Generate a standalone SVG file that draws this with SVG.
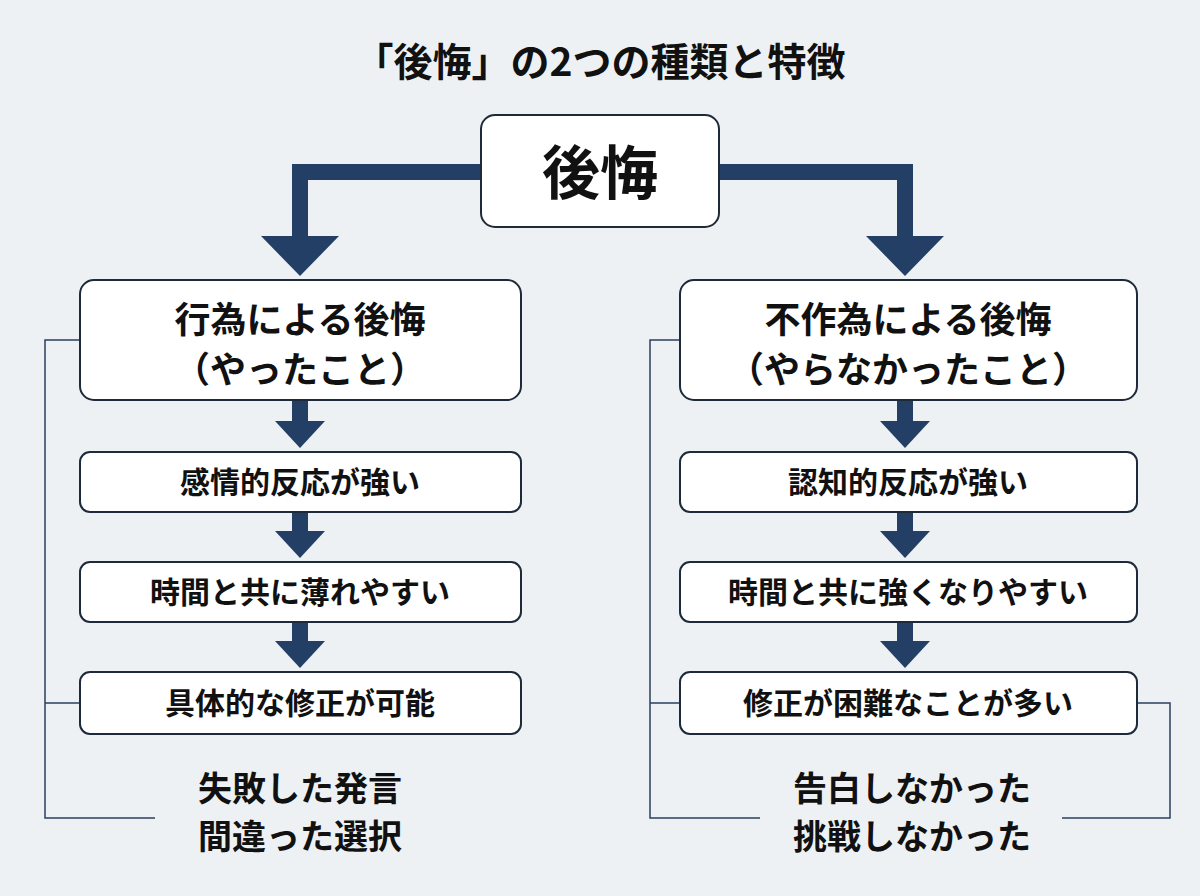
<svg xmlns="http://www.w3.org/2000/svg" width="1200" height="896" viewBox="0 0 1200 896">
<style>
text{font-family:"Noto Sans CJK JP","Noto Sans",sans-serif;font-weight:bold;fill:#111;text-anchor:middle}
.box{fill:#fff;stroke:#1e2a3a;stroke-width:2}
.thin{fill:none;stroke:#2a3f5e;stroke-width:1.5}
.arr{fill:#233f66}
</style>
<rect width="1200" height="896" fill="#eef1f4"/>
<text x="600" y="76" font-size="39">「後悔」の2つの種類と特徴</text>
<g id="connectors">
<path class="thin" d="M80 340H45V818H155M80 703H45"/>
<path class="thin" d="M680 340H650V818H760M680 703H650M1137 703H1170V818H1062"/>
<path d="M481 172H300V238M719 172H905V238" fill="none" stroke="#233f66" stroke-width="16"/>
<polygon class="arr" points="261,236 339,236 300,276"/>
<polygon class="arr" points="866,236 944,236 905,276"/>
<g id="small">
<rect class="arr" x="292" y="401" width="16" height="22"/><polygon class="arr" points="275,421 325,421 300,448"/>
<rect class="arr" x="292" y="513" width="16" height="20"/><polygon class="arr" points="275,531 325,531 300,558"/>
<rect class="arr" x="292" y="623" width="16" height="20"/><polygon class="arr" points="275,641 325,641 300,668"/>
<rect class="arr" x="897" y="401" width="16" height="22"/><polygon class="arr" points="880,421 930,421 905,448"/>
<rect class="arr" x="897" y="513" width="16" height="20"/><polygon class="arr" points="880,531 930,531 905,558"/>
<rect class="arr" x="897" y="623" width="16" height="20"/><polygon class="arr" points="880,641 930,641 905,668"/>
</g>
</g>
<g id="root"><rect class="box" x="481" y="115" width="238" height="112" rx="14"/><text x="600" y="194" font-size="58">後悔</text></g>
<g id="left"><rect class="box" x="80" y="280" width="441" height="120" rx="14"/><text x="300" y="333" font-size="36">行為による後悔</text><text x="300" y="383" font-size="36">（やったこと）</text></g>
<g id="right"><rect class="box" x="680" y="280" width="457" height="120" rx="14"/><text x="908" y="333" font-size="36">不作為による後悔</text><text x="908" y="383" font-size="36">（やらなかったこと）</text></g>
<g id="l1"><rect class="box" x="80" y="452" width="441" height="60" rx="10"/><text x="300" y="493" font-size="30">感情的反応が強い</text></g>
<g id="l2"><rect class="box" x="80" y="562" width="441" height="60" rx="10"/><text x="300" y="603" font-size="30">時間と共に薄れやすい</text></g>
<g id="l3"><rect class="box" x="80" y="672" width="441" height="62" rx="10"/><text x="300" y="714" font-size="30">具体的な修正が可能</text></g>
<g id="r1"><rect class="box" x="680" y="452" width="457" height="60" rx="10"/><text x="908" y="493" font-size="30">認知的反応が強い</text></g>
<g id="r2"><rect class="box" x="680" y="562" width="457" height="60" rx="10"/><text x="908" y="603" font-size="30">時間と共に強くなりやすい</text></g>
<g id="r3"><rect class="box" x="680" y="672" width="457" height="62" rx="10"/><text x="908" y="714" font-size="30">修正が困難なことが多い</text></g>
<g id="lex"><text x="300" y="801" font-size="34">失敗した発言</text><text x="300" y="849" font-size="34">間違った選択</text></g>
<g id="rex"><text x="912" y="801" font-size="34">告白しなかった</text><text x="912" y="849" font-size="34">挑戦しなかった</text></g>
</svg>
